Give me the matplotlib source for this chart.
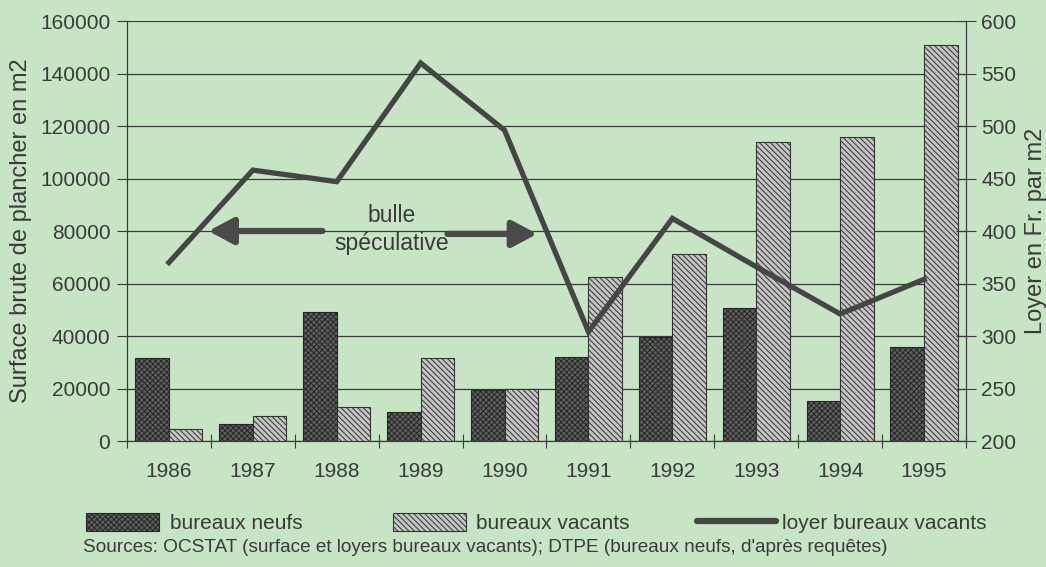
import matplotlib
matplotlib.use("Agg")
import matplotlib.pyplot as plt
from matplotlib.patches import Patch
from matplotlib.lines import Line2D

# données
annees = ["1986", "1987", "1988", "1989", "1990", "1991", "1992", "1993", "1994", "1995"]
bureaux_neufs = [31600, 6500, 49100, 11000, 19400, 32000, 39600, 50700, 15200, 35800]
bureaux_vacants = [4500, 9500, 13000, 31600, 19800, 62500, 71200, 114000, 115800, 150800]
loyer_vacants = [370, 458, 447, 560, 496, 304, 412, 366, 321, 354]

fond = "#c7e5c5"
encre = "#3a3a3a"
plt.rcParams["font.family"] = ["Liberation Sans", "DejaVu Sans"]
plt.rcParams["hatch.linewidth"] = 0.7

neuf_style = dict(facecolor="#5e5e5e", edgecolor="#262626", hatch="xxxxxx", linewidth=0.8)
vacant_style = dict(facecolor="#c4c4c4", edgecolor="#333333", hatch="\\\\\\\\\\\\", linewidth=0.8)

fig = plt.figure(figsize=(10.46, 5.67), dpi=100, facecolor=fond)
ax = fig.add_axes([0.1214, 0.2222, 0.8021, 0.7407])
ax.set_facecolor(fond)

x = list(range(len(annees)))
w = 0.4
ax.bar([i - w / 2 for i in x], bureaux_neufs, w, zorder=3, **neuf_style)
ax.bar([i + w / 2 for i in x], bureaux_vacants, w, zorder=3, **vacant_style)

ax.set_xlim(-0.5, len(annees) - 0.5)
ax.set_ylim(0, 160000)
ax.set_yticks(range(0, 160001, 20000))
ax.yaxis.grid(True, color="#3a3a3a", linewidth=0.9, zorder=1)
ax.set_axisbelow(True)
ax.set_xticks([i - 0.5 for i in range(len(annees) + 1)])
ax.set_xticklabels([])
ax.set_xticks(x, minor=True)
ax.set_xticklabels(annees, minor=True)
ax.tick_params(axis="x", which="major", direction="inout", length=10, color=encre)
ax.tick_params(axis="x", which="minor", length=0, pad=15, labelsize=15, labelcolor=encre)
ax.tick_params(axis="y", direction="out", length=7, color=encre, labelsize=15,
               labelcolor=encre, pad=5)
for s in ["left", "bottom", "right"]:
    ax.spines[s].set_color(encre)
ax.spines["top"].set_visible(False)
ax.set_ylabel("Surface brute de plancher en m2", fontsize=17, color=encre, labelpad=6)

ax2 = ax.twinx()
ax2.plot(x, loyer_vacants, color="#454545", linewidth=3.8, solid_joinstyle="miter", zorder=5)
ax2.set_ylim(200, 600)
ax2.set_yticks(range(200, 601, 50))
ax2.tick_params(axis="y", direction="inout", length=14, color=encre, labelsize=15,
                labelcolor=encre, pad=4)
for s in ["left", "bottom", "right"]:
    ax2.spines[s].set_color(encre)
ax2.spines["top"].set_visible(False)
ax2.set_ylabel("Loyer en Fr. par m2", fontsize=17, color=encre, labelpad=6)

# bulle spéculative
fleche = dict(arrowstyle="-|>,head_length=1.5,head_width=0.8", color="#4a4a4a", lw=4.5,
              shrinkA=0, shrinkB=0)
ax.annotate("", xy=(0.47, 80000), xytext=(1.83, 80000), arrowprops=fleche, zorder=4)
ax.annotate("", xy=(4.39, 78900), xytext=(3.32, 78900), arrowprops=fleche, zorder=4)
ax.text(2.66, 86000, "bulle", ha="center", va="center", fontsize=16.5, color=encre, zorder=4)
ax.text(2.66, 75400, "spéculative", ha="center", va="center", fontsize=16.5, color=encre, zorder=4)

# légende
y_leg = 1 - 523 / 567
elements = [
    (Patch(**neuf_style), "bureaux neufs", 86 / 1046, 0.55, 3.5),
    (Patch(**vacant_style), "bureaux vacants", 393 / 1046, 0.5, 3.5),
    (Line2D([], [], color="#454545", linewidth=4.5, solid_capstyle="round"),
     "loyer bureaux vacants", 697 / 1046, 0.3, 3.8),
]
for h, lab, xl, pad, hl in elements:
    fig.legend([h], [lab], loc="center left", bbox_to_anchor=(xl, y_leg), frameon=False,
               borderpad=0, borderaxespad=0, handletextpad=pad, handlelength=hl,
               handleheight=0.95, fontsize=15, labelcolor=encre)

fig.text(83 / 1046, 1 - 547 / 567,
         "Sources: OCSTAT (surface et loyers bureaux vacants); DTPE (bureaux neufs, d'après requêtes)",
         ha="left", va="center", fontsize=13.7, color=encre)

fig.savefig("out.png", dpi=100, facecolor=fond)
